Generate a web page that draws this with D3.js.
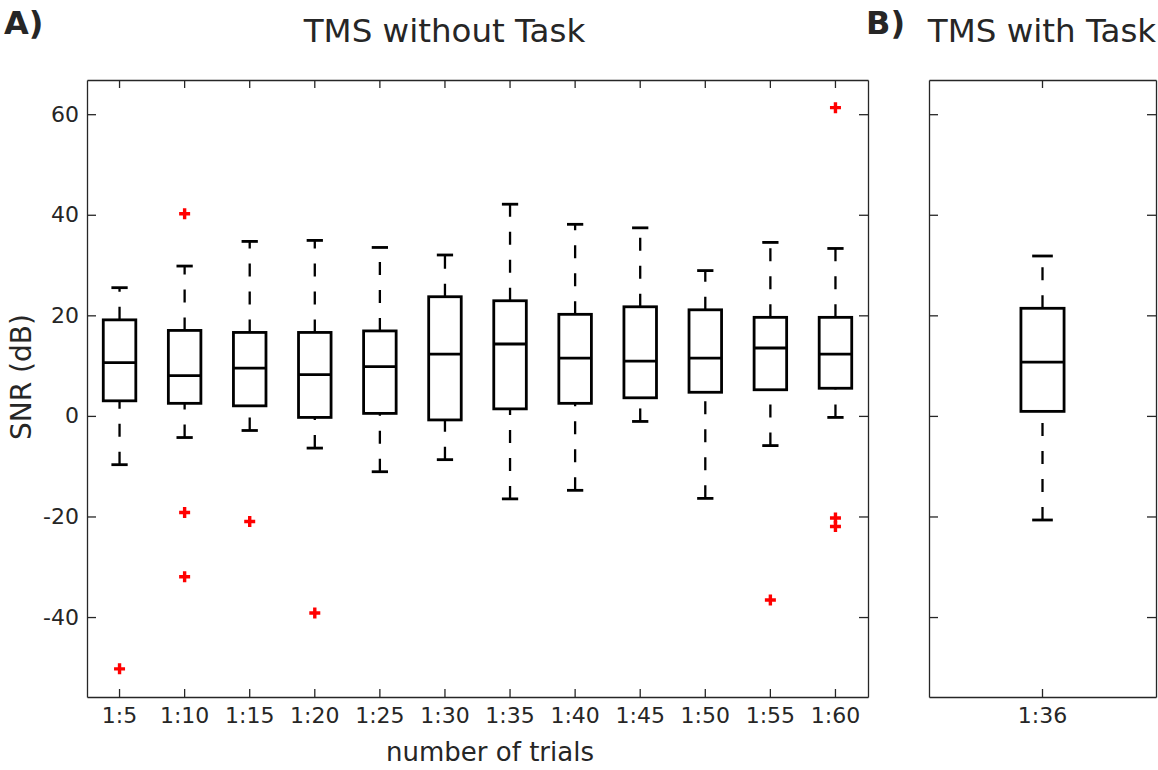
<!DOCTYPE html>
<html>
<head>
<meta charset="utf-8">
<script src="https://cdn.jsdelivr.net/npm/d3@7"></script>
<style>
  body { margin: 0; background: #fff; }
  text { font-family: "DejaVu Sans", Verdana, sans-serif; fill: #262626; }
  .axis path, .axis line { stroke: #262626; stroke-width: 1.3; }
  .axis text { font-size: 22px; }
</style>
</head>
<body>
<div id="chart"></div>
<script>
// panel A data
var trials = ["1:5", "1:10", "1:15", "1:20", "1:25", "1:30", "1:35", "1:40", "1:45", "1:50", "1:55", "1:60"];
var upperWhisker = [25.5, 29.8, 34.7, 34.9, 33.5, 32.0, 42.1, 38.1, 37.4, 28.9, 34.5, 33.3];
var q3 = [19.1, 17.0, 16.6, 16.6, 16.9, 23.7, 22.9, 20.2, 21.7, 21.1, 19.6, 19.6];
var medians = [10.6, 8.0, 9.5, 8.2, 9.8, 12.3, 14.3, 11.5, 10.9, 11.5, 13.5, 12.3];
var q1 = [3.0, 2.5, 2.0, -0.3, 0.5, -0.8, 1.4, 2.5, 3.6, 4.7, 5.2, 5.5];
var lowerWhisker = [-9.7, -4.3, -2.9, -6.4, -11.1, -8.7, -16.5, -14.8, -1.1, -16.4, -5.9, -0.3];
var outlierTrial = ["1:5", "1:10", "1:10", "1:10", "1:15", "1:20", "1:55", "1:60", "1:60", "1:60"];
var outlierValue = [-50.3, 40.2, -19.2, -32.0, -21.0, -39.2, -36.6, 61.3, -20.3, -22.0];

// panel B data
var taskTrials = ["1:36"];
var taskUpper = [31.8];
var taskQ3 = [21.4];
var taskMedian = [10.7];
var taskQ1 = [0.9];
var taskLower = [-20.7];

var yTicks = [-40, -20, 0, 20, 40, 60];

var svgWidth = 1158;
var svgHeight = 770;

var svg = d3.select("#chart")
  .append("svg")
  .attr("width", svgWidth)
  .attr("height", svgHeight);

var plotTop = 80, plotBottom = 697;

var yScale = d3.scaleLinear()
  .domain([-55.9, 66.8])
  .range([plotBottom, plotTop]);

function toBoxes(cats, lo, a, m, b, hi) {
  return cats.map(function(c, i) {
    return { cat: c, lo: lo[i], q1: a[i], med: m[i], q3: b[i], hi: hi[i] };
  });
}

// draws frame, ticks and boxes for one panel
// boxFrac / capFrac: box and cap width as a share of the category band
function drawPanel(left, right, boxes, outliers, showYLabels, boxFrac, capFrac) {
  var xScale = d3.scaleBand()
    .domain(boxes.map(d => d.cat))
    .range([left, right])
    .padding(0);
  var bw = xScale.bandwidth();
  var cx = d => xScale(d) + bw / 2;
  var halfBox = bw * boxFrac / 2;
  var halfCap = bw * capFrac / 2;

  var g = svg.append("g");

  g.append("g")
    .attr("class", "axis")
    .attr("transform", `translate(0, ${plotBottom})`)
    .call(d3.axisBottom(xScale).tickSizeInner(-8).tickSizeOuter(0).tickPadding(10));

  g.append("g")
    .attr("class", "axis")
    .attr("transform", `translate(0, ${plotTop})`)
    .call(d3.axisTop(xScale).tickSizeInner(-8).tickSizeOuter(0).tickFormat(""));

  g.append("g")
    .attr("class", "axis")
    .attr("transform", `translate(${left}, 0)`)
    .call(d3.axisLeft(yScale).tickValues(yTicks).tickSizeInner(-9).tickSizeOuter(0)
      .tickPadding(8).tickFormat(d => showYLabels ? String(d) : ""));

  g.append("g")
    .attr("class", "axis")
    .attr("transform", `translate(${right}, 0)`)
    .call(d3.axisRight(yScale).tickValues(yTicks).tickSizeInner(-9).tickSizeOuter(0).tickFormat(""));

  g.selectAll(".axis text").attr("fill", "#262626");

  var box = g.selectAll(".box")
    .data(boxes)
    .enter()
    .append("g")
    .attr("class", "box");

  // whiskers, drawn from the lower end upward so the dashes start there
  box.append("line")
    .attr("x1", d => cx(d.cat)).attr("x2", d => cx(d.cat))
    .attr("y1", d => yScale(d.lo)).attr("y2", d => yScale(d.q1))
    .attr("stroke", "#000").attr("stroke-width", 2.3)
    .attr("stroke-dasharray", "13,15");

  box.append("line")
    .attr("x1", d => cx(d.cat)).attr("x2", d => cx(d.cat))
    .attr("y1", d => yScale(d.q3)).attr("y2", d => yScale(d.hi))
    .attr("stroke", "#000").attr("stroke-width", 2.3)
    .attr("stroke-dasharray", "13,15");

  // caps
  ["lo", "hi"].forEach(function(k) {
    box.append("line")
      .attr("x1", d => cx(d.cat) - halfCap).attr("x2", d => cx(d.cat) + halfCap)
      .attr("y1", d => yScale(d[k])).attr("y2", d => yScale(d[k]))
      .attr("stroke", "#000").attr("stroke-width", 2.8);
  });

  box.append("rect")
    .attr("x", d => cx(d.cat) - halfBox)
    .attr("width", halfBox * 2)
    .attr("y", d => yScale(d.q3))
    .attr("height", d => yScale(d.q1) - yScale(d.q3))
    .attr("fill", "none")
    .attr("stroke", "#000")
    .attr("stroke-width", 2.8);

  box.append("line")
    .attr("x1", d => cx(d.cat) - halfBox).attr("x2", d => cx(d.cat) + halfBox)
    .attr("y1", d => yScale(d.med)).attr("y2", d => yScale(d.med))
    .attr("stroke", "#000").attr("stroke-width", 2.8);

  // red plus outliers
  var s = 5.5;
  g.selectAll(".outlier")
    .data(outliers)
    .enter()
    .append("path")
    .attr("class", "outlier")
    .attr("d", d => `M${cx(d.cat) - s},${yScale(d.v)}H${cx(d.cat) + s}M${cx(d.cat)},${yScale(d.v) - s}V${yScale(d.v) + s}`)
    .attr("stroke", "#ff0000")
    .attr("stroke-width", 3.4)
    .attr("fill", "none");

  // frame lines on top
  g.selectAll(".axis path").raise();
}

var boxesA = toBoxes(trials, lowerWhisker, q1, medians, q3, upperWhisker);
var outliersA = outlierTrial.map((c, i) => ({ cat: c, v: outlierValue[i] }));
drawPanel(87, 868, boxesA, outliersA, true, 0.5, 0.25);

var boxesB = toBoxes(taskTrials, taskLower, taskQ1, taskMedian, taskQ3, taskUpper);
drawPanel(929, 1156, boxesB, [], false, 0.19, 0.091);

// titles and labels
svg.append("text")
  .attr("x", 4).attr("y", 34)
  .style("font-size", "32px").style("font-weight", "bold")
  .attr("fill", "#000")
  .text("A)");

svg.append("text")
  .attr("x", 444.5).attr("y", 42)
  .attr("text-anchor", "middle")
  .style("font-size", "32.5px")
  .attr("fill", "#000")
  .text("TMS without Task");

svg.append("text")
  .attr("x", 866).attr("y", 34)
  .style("font-size", "32px").style("font-weight", "bold")
  .attr("fill", "#000")
  .text("B)");

svg.append("text")
  .attr("x", 1042).attr("y", 42)
  .attr("text-anchor", "middle")
  .style("font-size", "32.5px")
  .attr("fill", "#000")
  .text("TMS with Task");

svg.append("text")
  .attr("x", 490).attr("y", 761)
  .attr("text-anchor", "middle")
  .style("font-size", "26px")
  .text("number of trials");

svg.append("text")
  .attr("transform", "translate(31, 377) rotate(-90)")
  .attr("text-anchor", "middle")
  .style("font-size", "28px")
  .text("SNR (dB)");
</script>
</body>
</html>
